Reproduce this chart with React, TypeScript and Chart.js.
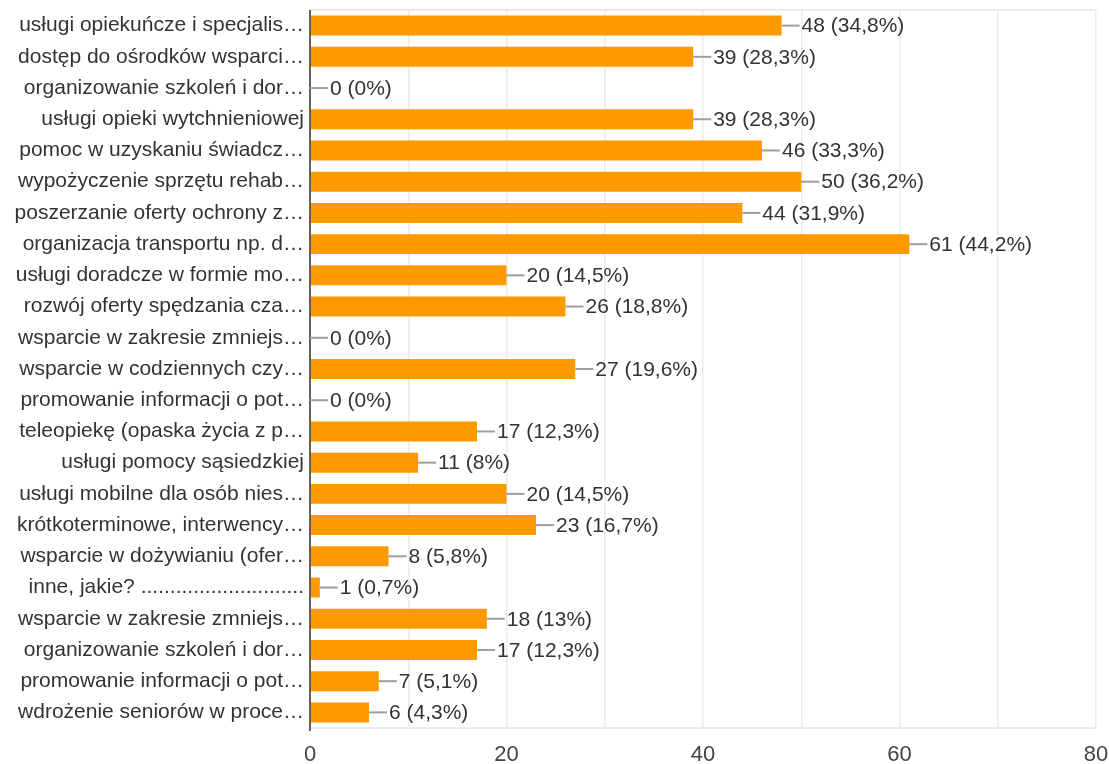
import React, { useEffect, useRef } from "react";
import { Chart, registerables } from "chart.js";

Chart.register(...registerables);

const categories: string[] = [
  "usługi opiekuńcze i specjalis…",
  "dostęp do ośrodków wsparci…",
  "organizowanie szkoleń i dor…",
  "usługi opieki wytchnieniowej",
  "pomoc w uzyskaniu świadcz…",
  "wypożyczenie sprzętu rehab…",
  "poszerzanie oferty ochrony z…",
  "organizacja transportu np. d…",
  "usługi doradcze w formie mo…",
  "rozwój oferty spędzania cza…",
  "wsparcie w zakresie zmniejs…",
  "wsparcie w codziennych czy…",
  "promowanie informacji o pot…",
  "teleopiekę (opaska życia z p…",
  "usługi pomocy sąsiedzkiej",
  "usługi mobilne dla osób nies…",
  "krótkoterminowe, interwency…",
  "wsparcie w dożywianiu (ofer…",
  "inne, jakie? ............................",
  "wsparcie w zakresie zmniejs…",
  "organizowanie szkoleń i dor…",
  "promowanie informacji o pot…",
  "wdrożenie seniorów w proce…",
];

const counts: number[] = [48, 39, 0, 39, 46, 50, 44, 61, 20, 26, 0, 27, 0, 17, 11, 20, 23, 8, 1, 18, 17, 7, 6];

const percents: string[] = [
  "34,8%", "28,3%", "0%", "28,3%", "33,3%", "36,2%", "31,9%", "44,2%", "14,5%", "18,8%", "0%", "19,6%",
  "0%", "12,3%", "8%", "14,5%", "16,7%", "5,8%", "0,7%", "13%", "12,3%", "5,1%", "4,3%",
];

const xTickLabels: number[] = [0, 20, 40, 60, 80];

const FONT = "'Liberation Sans', Arial, sans-serif";

const valueLabelPlugin = {
  id: "valueLabels",
  afterDatasetsDraw(chart: any) {
    const ctx = chart.ctx;
    const meta = chart.getDatasetMeta(0);
    ctx.save();
    meta.data.forEach((bar: any, i: number) => {
      const x = bar.x;
      const y = bar.y;
      ctx.strokeStyle = "#9e9e9e";
      ctx.lineWidth = 2;
      ctx.beginPath();
      ctx.moveTo(x, y);
      ctx.lineTo(x + 18, y);
      ctx.stroke();
      ctx.fillStyle = "#333333";
      ctx.font = `21px ${FONT}`;
      ctx.textAlign = "left";
      ctx.textBaseline = "middle";
      ctx.fillText(`${counts[i]} (${percents[i]})`, x + 20, y + 1);
    });
    ctx.restore();
  },
};

const framePlugin = {
  id: "frame",
  beforeDatasetsDraw(chart: any) {
    const { ctx, chartArea } = chart;
    ctx.save();
    ctx.strokeStyle = "#e6e6e6";
    ctx.lineWidth = 1.5;
    ctx.beginPath();
    ctx.moveTo(chartArea.left, chartArea.top);
    ctx.lineTo(chartArea.right, chartArea.top);
    ctx.moveTo(chartArea.left, chartArea.bottom);
    ctx.lineTo(chartArea.right, chartArea.bottom);
    ctx.stroke();
    ctx.restore();
  },
  afterDatasetsDraw(chart: any) {
    const { ctx, chartArea } = chart;
    const x0 = chart.scales.x.getPixelForValue(0);
    ctx.save();
    ctx.strokeStyle = "#333333";
    ctx.lineWidth = 1.5;
    ctx.beginPath();
    ctx.moveTo(x0, chartArea.top);
    ctx.lineTo(x0, chartArea.bottom + 3);
    ctx.stroke();
    ctx.restore();
  },
};

export default function App() {
  const ref = useRef<HTMLCanvasElement | null>(null);

  useEffect(() => {
    if (!ref.current) return;
    const chart = new Chart(ref.current, {
      type: "bar",
      data: {
        labels: categories,
        datasets: [
          {
            data: counts,
            backgroundColor: "#ff9900",
            borderWidth: 0,
            categoryPercentage: 1,
            barPercentage: 0.64,
          },
        ],
      },
      options: {
        indexAxis: "y",
        animation: false,
        responsive: false,
        maintainAspectRatio: false,
        layout: { padding: { top: 10, right: 13, left: 0, bottom: 0 } },
        plugins: {
          legend: { display: false },
          tooltip: { enabled: false },
        },
        scales: {
          x: {
            min: 0,
            max: 80,
            ticks: {
              stepSize: 10,
              autoSkip: false,
              maxRotation: 0,
              padding: 14,
              color: "#444444",
              font: { family: FONT, size: 22 },
              callback: (v: any) => (xTickLabels.includes(Number(v)) ? String(v) : ""),
            },
            grid: {
              color: "#ececec",
              lineWidth: 1.5,
              drawTicks: false,
            },
            border: { display: false },
            afterFit: (scale: any) => {
              scale.height = 36;
              scale.paddingLeft = 0;
              scale.paddingRight = 0;
            },
          },
          y: {
            ticks: {
              autoSkip: false,
              padding: 6,
              color: "#333333",
              font: { family: FONT, size: 21 },
            },
            grid: { display: false, drawTicks: false },
            border: { display: false },
            afterFit: (scale: any) => {
              scale.width = 310;
              scale.paddingTop = 0;
              scale.paddingBottom = 0;
            },
          },
        },
      },
      plugins: [framePlugin, valueLabelPlugin],
    });
    return () => chart.destroy();
  }, []);

  return (
    <div style={{ position: "fixed", left: 0, top: 0, width: 1109, height: 764, background: "#ffffff" }}>
      <canvas ref={ref} width={1109} height={764} style={{ width: 1109, height: 764, display: "block" }} />
    </div>
  );
}
